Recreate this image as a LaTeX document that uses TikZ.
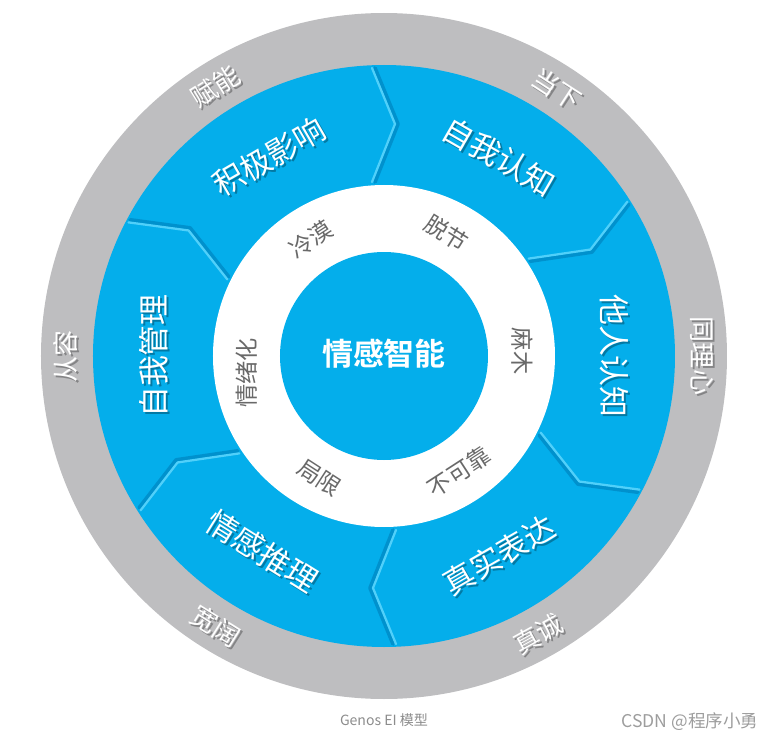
\documentclass[tikz,border=0pt]{standalone}
\usepackage{fontspec}
\setmainfont{Noto Sans CJK SC}[BoldFont={Noto Sans CJK SC Bold}]
\usetikzlibrary{calc}
\definecolor{ringblue}{RGB}{4,174,235}
\definecolor{ringgray}{RGB}{190,190,192}
\definecolor{ridgelight}{RGB}{80,208,250}
\definecolor{ridgedark}{RGB}{0,145,205}
\definecolor{wordgray}{RGB}{105,105,105}
\definecolor{notegray}{RGB}{140,140,140}
\begin{document}
\begin{tikzpicture}[x=0.025cm, y=0.025cm, line join=round, line cap=round,
  bandword/.style={text=white, font=\fontsize{22}{22}\selectfont},
  rimword/.style={text=white, font=\fontsize{18.5}{18.5}\selectfont},
  gapword/.style={text=wordgray, font=\fontsize{16.5}{16.5}\selectfont},
  wordshade/.style={text=black, opacity=0.3},
  ridge/.style={ridgelight, line width=1.6pt},
  ridgeshade/.style={ridgedark, line width=2.6pt}]
\useasboundingbox (-384,-388) rectangle (388,356);
\path (0,0) coordinate (O);
\fill[ringgray] (O) circle (343);
\fill[ringblue] (O) circle (291);
\fill[white] (O) circle (171);
\fill[ringblue] (O) circle (104);
\foreach \a in {90,30,-30,-90,-150,150}{
  \begin{scope}[rotate=\a-90]
    \draw[ridgeshade] (-9,174)--(14,232)--(-9,288);
    \draw[ridge] (-12,174)--(11,232)--(-12,288);
  \end{scope}
}
\foreach \ang/\rot/\txt [count=\i] in {120/30/积极影响, 60/-30/自我认知, 0/-90/他人认知, -60/30/真实表达, -122/-32/情感推理, 180/90/自我管理}{
  \node[bandword, wordshade, rotate=\rot] at ($(\ang:230)+(2,-2)$) {\txt};
  \node[bandword, rotate=\rot] (band\i) at (\ang:230) {\txt};
}
\foreach \ang/\rot/\txt [count=\i] in {122/32/赋能, 57/-33/当下, 0/-90/同理心, -61/29/真诚, -122/-32/宽阔, 180/90/从容}{
  \node[rimword, wordshade, rotate=\rot] at ($(\ang:318)+(2,-2)$) {\txt};
  \node[rimword, rotate=\rot] (rim\i) at (\ang:318) {\txt};
}
\foreach \ang/\rot/\txt [count=\i] in {122/33/冷漠, 63/-32/脱节, 2/-90/麻木, -57/33/不可靠, -118/-33/局限, 187/90/情绪化}
  \node[gapword, rotate=\rot] (gap\i) at (\ang:138) {\txt};
\node[text=white, font=\fontsize{22}{22}\selectfont\bfseries] (core) at (0,2) {情感智能};
\node[text=notegray, font=\fontsize{10}{10}\selectfont] (title) at (0,-364) {Genos EI 模型};
\node[text=notegray!85, font=\fontsize{12.5}{12.5}\selectfont] (credit) at (306,-366) {CSDN @程序小勇};
\end{tikzpicture}
\end{document}
